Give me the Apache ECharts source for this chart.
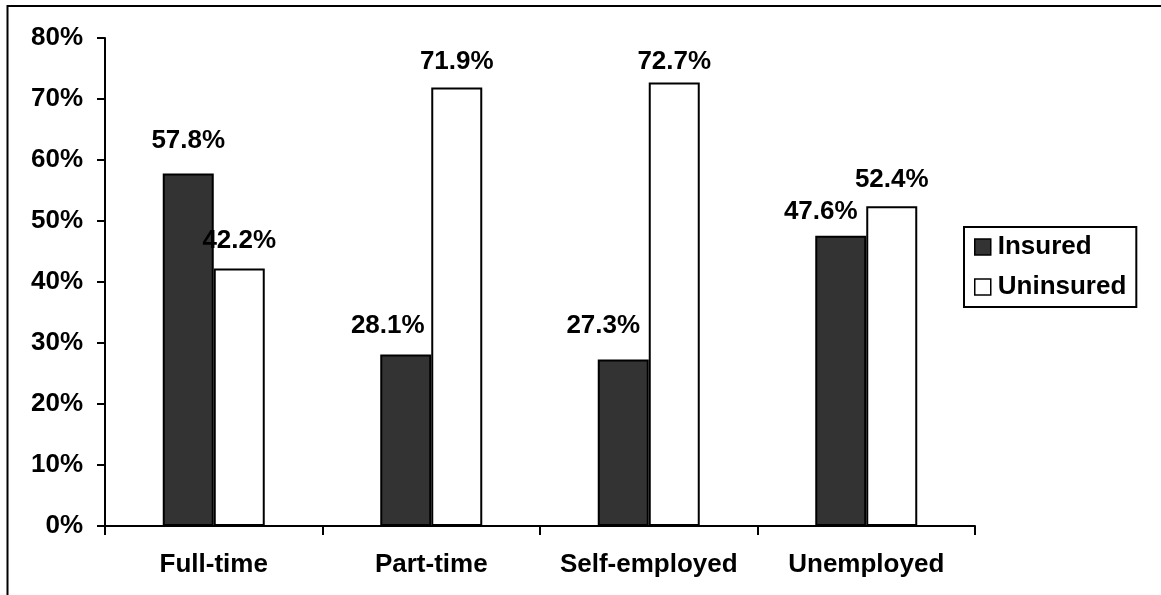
<!DOCTYPE html>
<html>
<head>
<meta charset="utf-8">
<script src="https://cdn.jsdelivr.net/npm/echarts@6/dist/echarts.min.js"></script>
<style>
  html, body { margin: 0; padding: 0; background: #ffffff; }
  #chart { width: 1161px; height: 595px; }
</style>
</head>
<body>
<div id="chart"></div>
<script>
// ---- data ----
const categories = ['Full-time', 'Part-time', 'Self-employed', 'Unemployed'];
const insured = [57.8, 28.1, 27.3, 47.6];
const uninsured = [42.2, 71.9, 72.7, 52.4];
const seriesNames = ['Insured', 'Uninsured'];
const yTicks = [0, 10, 20, 30, 40, 50, 60, 70, 80];

// ---- label nudges (styling only) ----
const insuredLabelShift = [[0, -16], [-18, -12], [-20, -17], [-20, -7]];
const uninsuredLabelShift = [[0, -11], [0, -9], [0, -4], [0, -10]];

const FONT = '"Liberation Sans", Arial, sans-serif';
const FS = 26;

function buildData(values, shifts) {
  return values.map((v, i) => ({ value: v, label: { offset: shifts[i] } }));
}

const chart = echarts.init(document.getElementById('chart'), null, { renderer: 'canvas' });

const labelStyle = {
  show: true,
  position: 'top',
  distance: 4,
  formatter: p => p.value.toFixed(1) + '%',
  color: '#000',
  fontFamily: FONT,
  fontWeight: 'bold',
  fontSize: FS,
  lineHeight: FS
};

chart.setOption({
  backgroundColor: '#ffffff',
  animation: false,
  graphic: [{
    type: 'rect',
    shape: { x: 7.5, y: 6, width: 1300, height: 800 },
    style: { fill: 'none', stroke: '#000', lineWidth: 2 },
    silent: true
  }],
  grid: { left: 105, top: 38, right: 186, bottom: 69, containLabel: false },
  legend: {
    orient: 'vertical',
    left: 964,
    top: 227,
    data: seriesNames,
    icon: 'rect',
    itemWidth: 16,
    itemHeight: 16,
    itemGap: 14,
    padding: [7, 10, 7, 10],
    borderColor: '#000',
    borderWidth: 2,
    backgroundColor: '#fff',
    textStyle: {
      color: '#000',
      fontFamily: FONT,
      fontWeight: 'bold',
      fontSize: FS,
      lineHeight: FS,
      padding: [0, 0, 0, 2]
    },
    itemStyle: { borderColor: '#000', borderWidth: 1.5 }
  },
  xAxis: {
    type: 'category',
    data: categories,
    boundaryGap: true,
    axisLine: { show: true, lineStyle: { color: '#000', width: 2 } },
    axisTick: { show: true, alignWithLabel: false, length: 9, lineStyle: { color: '#000', width: 2 } },
    axisLabel: {
      color: '#000',
      fontFamily: FONT,
      fontWeight: 'bold',
      fontSize: FS,
      margin: 26,
      interval: 0
    },
    splitLine: { show: false }
  },
  yAxis: {
    type: 'value',
    min: yTicks[0],
    max: yTicks[yTicks.length - 1],
    interval: yTicks[1] - yTicks[0],
    axisLine: { show: true, lineStyle: { color: '#000', width: 2 } },
    axisTick: { show: true, length: 8, lineStyle: { color: '#000', width: 2 } },
    axisLabel: {
      color: '#000',
      fontFamily: FONT,
      fontWeight: 'bold',
      fontSize: FS,
      margin: 22,
      formatter: v => v + '%'
    },
    splitLine: { show: false }
  },
  series: [
    {
      name: seriesNames[0],
      type: 'bar',
      data: buildData(insured, insuredLabelShift),
      barWidth: 51,
      barGap: '0%',
      itemStyle: { color: '#333333', borderColor: '#000', borderWidth: 2 },
      label: labelStyle
    },
    {
      name: seriesNames[1],
      type: 'bar',
      data: buildData(uninsured, uninsuredLabelShift),
      barWidth: 51,
      barGap: '0%',
      itemStyle: { color: '#ffffff', borderColor: '#000', borderWidth: 2 },
      label: labelStyle
    }
  ]
});
</script>
</body>
</html>
